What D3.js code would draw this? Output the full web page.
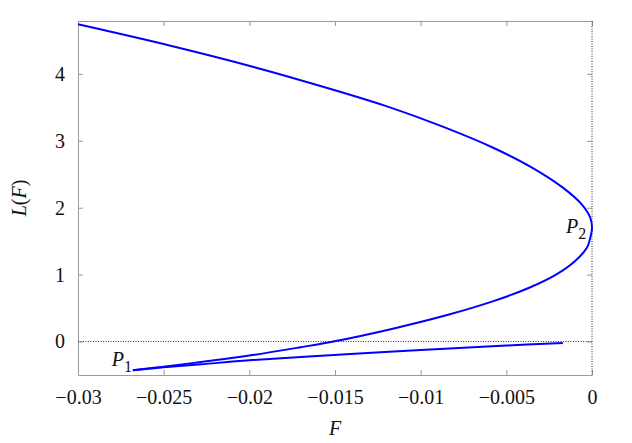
<!DOCTYPE html>
<html>
<head>
<meta charset="utf-8">
<script src="https://cdn.jsdelivr.net/npm/d3@7"></script>
<style>
  body { margin: 0; background: #fff; }
  svg text { font-family: "Liberation Serif", "DejaVu Serif", serif; fill: #111; }
</style>
</head>
<body>
<div id="chart"></div>
<script>
// upper branch: from the top-left, round P2, back down to P1
var branchAF = [-0.0300, -0.0246, -0.0197, -0.0156, -0.0118, -0.0086, -0.0058, -0.0035,
    -0.0017, -0.0006, -0.0001, 0.0000, -0.0001, -0.0003, -0.0010, -0.0021, -0.0037,
    -0.0058, -0.0084, -0.0115, -0.0151, -0.0170, -0.0200, -0.0225, -0.0250, -0.0268];
var branchAL = [4.74, 4.42, 4.10, 3.80, 3.50, 3.20, 2.90, 2.60,
    2.30, 2.05, 1.85, 1.70, 1.55, 1.40, 1.20, 1.00, 0.80,
    0.60, 0.40, 0.20, 0.00, -0.085, -0.21, -0.295, -0.375, -0.43];
// lower branch: from P1 towards F = 0
var branchBF = [-0.0268, -0.0250, -0.0228, -0.0200, -0.0141, -0.0100, -0.0050, -0.0017];
var branchBL = [-0.43, -0.385, -0.34, -0.28, -0.185, -0.125, -0.06, -0.02];

var xTicks = [-0.03, -0.025, -0.02, -0.015, -0.01, -0.005, 0];
var xTickLabels = ["\u22120.03", "\u22120.025", "\u22120.02", "\u22120.015", "\u22120.01", "\u22120.005", "0"];
var yTicks = [0, 1, 2, 3, 4];

var margin = { top: 21, right: 40, bottom: 68, left: 78 },
    width = 632 - margin.left - margin.right,
    height = 443 - margin.top - margin.bottom;

var x = d3.scaleLinear().domain([-0.03, 0]).range([0, width]);
var y = d3.scaleLinear().domain([-0.5, 4.79]).range([height, 0]);

var svg = d3.select("#chart").append("svg")
    .attr("width", 632)
    .attr("height", 443);
var g = svg.append("g")
    .attr("transform", "translate(" + margin.left + "," + margin.top + ")");

var axisGrey = "#9a9a9a";
var serif = "'Liberation Serif', 'DejaVu Serif', serif";

// frame axes, ticks pointing inwards
var xAxisB = d3.axisBottom(x).tickValues(xTicks)
    .tickFormat(function (d, i) { return xTickLabels[i]; })
    .tickSizeInner(-5).tickSizeOuter(0).tickPadding(15);
var xAxisT = d3.axisTop(x).tickValues(xTicks).tickFormat("")
    .tickSizeInner(-5).tickSizeOuter(0);
var yAxisL = d3.axisLeft(y).tickValues(yTicks).tickFormat(d3.format("d"))
    .tickSizeInner(-5).tickSizeOuter(0).tickPadding(13);
var yAxisR = d3.axisRight(y).tickValues(yTicks).tickFormat("")
    .tickSizeInner(-5).tickSizeOuter(0);

function styleAxis(sel) {
    sel.attr("font-family", serif).attr("font-size", 20);
    sel.selectAll("path, line").attr("stroke", axisGrey).attr("stroke-width", 1);
    sel.selectAll("text").attr("fill", "#111");
}

g.append("g").attr("transform", "translate(0," + height + ")").call(xAxisB).call(styleAxis);
g.append("g").call(xAxisT).call(styleAxis);
g.append("g").call(yAxisL).call(styleAxis);
var rAxis = g.append("g").attr("transform", "translate(" + width + ",0)").call(yAxisR).call(styleAxis);
rAxis.select("path").remove();

// dotted zero lines
g.append("line")
    .attr("x1", 0).attr("x2", width)
    .attr("y1", y(0)).attr("y2", y(0))
    .attr("stroke", "#333").attr("stroke-width", 1)
    .attr("stroke-dasharray", "1,1.5");
g.append("line")
    .attr("x1", x(0)).attr("x2", x(0))
    .attr("y1", 0).attr("y2", height)
    .attr("stroke", "#333").attr("stroke-width", 1)
    .attr("stroke-dasharray", "1,1.5");

var line = d3.line()
    .x(function (d) { return x(d[0]); })
    .y(function (d) { return y(d[1]); })
    .curve(d3.curveCatmullRom.alpha(0.5));

var branchA = d3.zip(branchAF, branchAL),
    branchB = d3.zip(branchBF, branchBL);

g.selectAll(".branch")
    .data([branchA, branchB])
    .enter().append("path")
    .attr("class", "branch")
    .attr("d", line)
    .attr("fill", "none")
    .attr("stroke", "#0000ff")
    .attr("stroke-width", 2);

// point labels
function pointLabel(px, py, sub) {
    var t = g.append("text")
        .attr("x", px).attr("y", py)
        .attr("font-family", serif)
        .style("font-size", "20px");
    t.append("tspan").style("font-style", "italic").text("P");
    t.append("tspan").attr("dy", 6).style("font-size", "16px").text(sub);
}
pointLabel(x(-0.0268) - 21, y(-0.43) - 4, "1");
pointLabel(x(0) - 26, y(1.70) + 5, "2");

// axis titles
g.append("text")
    .attr("x", width / 2).attr("y", height + 60)
    .attr("text-anchor", "middle")
    .attr("font-family", serif)
    .style("font-size", "20px").style("font-style", "italic")
    .text("F");

var yt = g.append("text")
    .attr("transform", "translate(" + (-52) + "," + (height / 2) + ") rotate(-90)")
    .attr("text-anchor", "middle")
    .attr("font-family", serif)
    .style("font-size", "20px");
yt.append("tspan").style("font-style", "italic").text("L");
yt.append("tspan").text("(");
yt.append("tspan").style("font-style", "italic").text("F");
yt.append("tspan").text(")");
</script>
</body>
</html>
